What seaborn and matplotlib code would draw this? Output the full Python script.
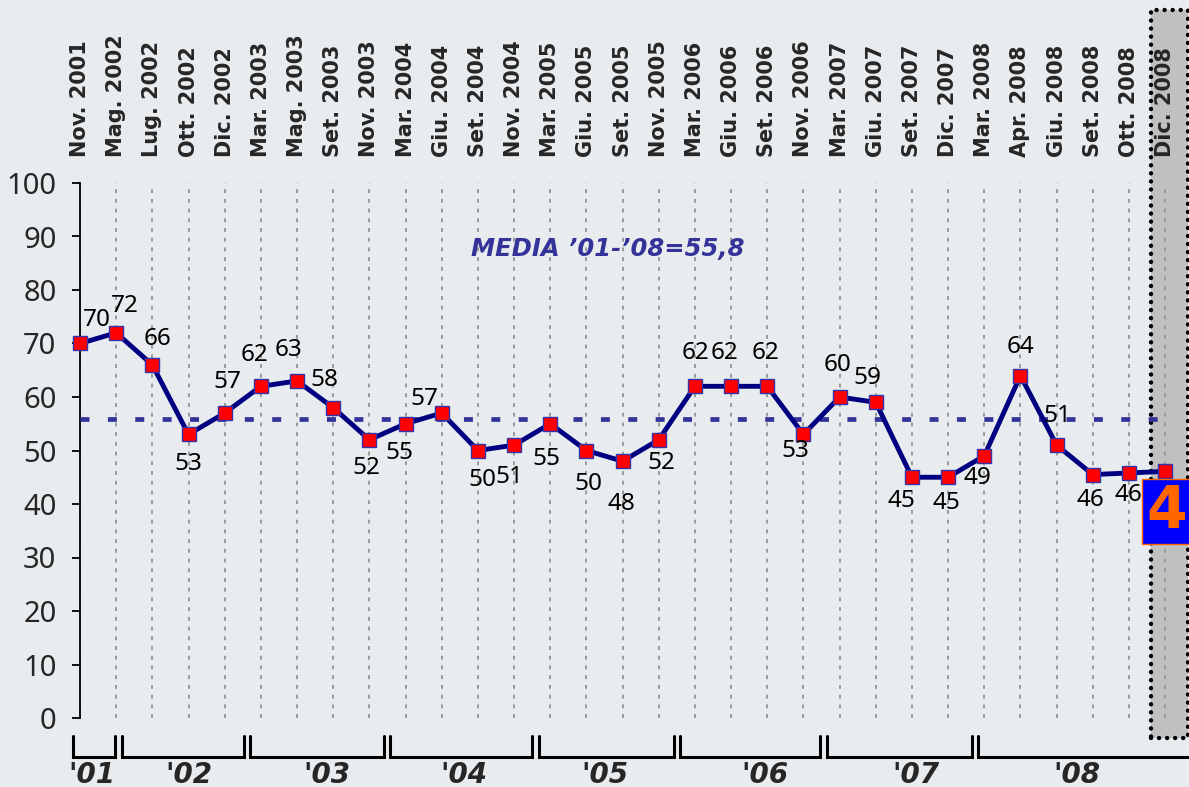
import matplotlib.pyplot as plt
import matplotlib.patches as mpatches
from matplotlib.transforms import blended_transform_factory
import seaborn as sns

# dati del sondaggio
months = ['Nov. 2001', 'Mag. 2002', 'Lug. 2002', 'Ott. 2002', 'Dic. 2002',
          'Mar. 2003', 'Mag. 2003', 'Set. 2003', 'Nov. 2003',
          'Mar. 2004', 'Giu. 2004', 'Set. 2004', 'Nov. 2004',
          'Mar. 2005', 'Giu. 2005', 'Set. 2005', 'Nov. 2005',
          'Mar. 2006', 'Giu. 2006', 'Set. 2006', 'Nov. 2006',
          'Mar. 2007', 'Giu. 2007', 'Set. 2007', 'Dic. 2007',
          'Mar. 2008', 'Apr. 2008', 'Giu. 2008', 'Set. 2008', 'Ott. 2008', 'Dic. 2008']
values = [70, 72, 66, 53, 57, 62, 63, 58, 52, 55, 57, 50, 51, 55, 50, 48, 52,
          62, 62, 62, 53, 60, 59, 45, 45, 49, 64, 51, 45.5, 45.8, 46.1]
year_labels = ["'01", "'02", "'03", "'04", "'05", "'06", "'07", "'08"]
media = 55.8
media_text = "MEDIA \u201901-\u201908=55,8"

# layout
label_offsets = [(17, 23), (9, 27), (5, 26), (0, -30), (3, 31), (-6, 31), (-9, 31),
                 (-9, 28), (-3, -28), (-6, -29), (-17, 14), (5, -29), (-5, -32),
                 (-4, -35), (2, -33), (-1, -43), (3, -23), (1, 33), (-7, 33),
                 (-2, 33), (-8, -17), (-2, 32), (-8, 24), (-10, -24), (-2, -26),
                 (-7, -22), (0, 29), (1, 29), (-2, -25), (-1, -22), None]
year_bounds = [-0.18, 1.06, 4.62, 8.49, 12.59, 16.5, 20.55, 24.75, 31.0]
year_label_x = [0.33, 3.01, 6.83, 10.62, 14.51, 18.94, 23.11, 27.56]

bg = '#e9ecee'
sns.set_theme(style='white', rc={'figure.facecolor': bg, 'axes.facecolor': bg})
plt.rcParams['font.family'] = ['Noto Sans', 'DejaVu Sans']

idx = list(range(len(months)))

fig = plt.figure(figsize=(11.89, 7.87), dpi=100)
ax = fig.add_axes([80 / 1189, 69 / 787, 1109 / 1189, 535 / 787])

sns.lineplot(x=idx, y=values, ax=ax, color='#000080', lw=3.5, marker='s',
             markersize=10, markerfacecolor='#ff0000', markeredgecolor='#3333aa',
             markeredgewidth=1, zorder=4, clip_on=False)

ax.hlines(media, idx[0], idx[-1], colors='#333399', lw=3.4,
          linestyles=(0, (1.9, 3.9)), zorder=3)

ax.set_xlim(0, 30.66)
ax.set_ylim(0, 100)
ax.set_yticks(range(0, 101, 10))
ax.tick_params(axis='y', left=True, length=6, width=1.3, pad=11,
               labelsize=21, color='black')
ax.set_xticks(idx)
ax.set_xticklabels(months, rotation=90, fontweight='bold', fontsize=15,
                   family='DejaVu Sans')
ax.tick_params(axis='x', bottom=False, top=False, labelbottom=False,
               labeltop=True, length=0, pad=19)
ax.grid(axis='x', color='#999999', lw=1.4, ls=(0, (2, 3)))
ax.set_axisbelow('line')
for s in ['top', 'right', 'bottom']:
    ax.spines[s].set_visible(False)
ax.spines['left'].set_color('black')
ax.spines['left'].set_linewidth(1.3)
ax.set_xlabel('')
ax.set_ylabel('')

# etichette dei valori
for i, v in enumerate(values):
    off = label_offsets[i]
    if off is None:
        continue
    ax.annotate(f'{round(v)}', (i, v), xytext=off, textcoords='offset pixels',
                ha='center', va='center', fontsize=17.5, color='black', zorder=5)

ax.text(14.6, 87.7, media_text, ha='center', va='center', color='#333399',
        fontsize=17.5, fontweight='bold', fontstyle='oblique', family='DejaVu Sans')

# box evidenziato ultimo rilevamento
tr = blended_transform_factory(ax.transData, fig.transFigure)
hl = mpatches.Rectangle((idx[-1] - 0.39, 49 / 787), 1.03, 728 / 787, transform=tr,
                        facecolor='#c0c0c0', edgecolor='black', lw=3.2,
                        ls=(0, (0.01, 1.8)), capstyle='round', zorder=1, clip_on=False)
ax.add_patch(hl)

ax.text(idx[-1] - 0.52, 38.6, f'{round(values[-1])}', ha='left', va='center',
        fontsize=42, fontweight='bold', color='#ff6600', family='DejaVu Sans',
        zorder=6, clip_on=False,
        bbox=dict(boxstyle='square,pad=0.07', fc='#0000ff', ec='#ff6600', lw=1))

# parentesi degli anni
tb = blended_transform_factory(ax.transData, ax.transAxes)
for k, lab in enumerate(year_labels):
    x0 = year_bounds[k] + (0 if k == 0 else 0.09)
    x1 = year_bounds[k + 1] - 0.09
    ax.plot([x0, x0, x1, x1], [-0.034, -0.073, -0.073, -0.034], transform=tb,
            color='black', lw=2.2, clip_on=False, solid_joinstyle='miter')
    ax.text(year_label_x[k], -0.106, lab, transform=tb, ha='center',
            va='center', fontsize=20, fontweight='bold', fontstyle='oblique',
            family='DejaVu Sans')

fig.savefig('out.png', dpi=100, facecolor=bg)
